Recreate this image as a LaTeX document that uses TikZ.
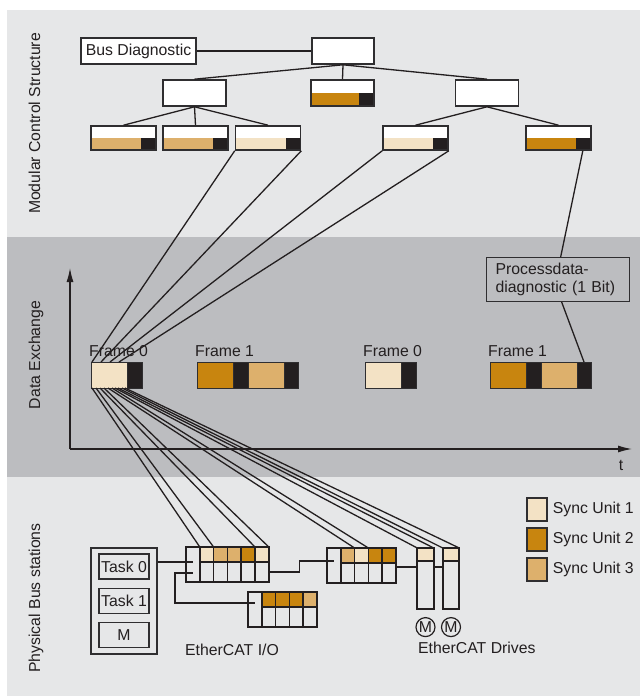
\documentclass[tikz,border=0pt]{standalone}
\usepackage{fontspec}
\setmainfont{Liberation Sans}
\usetikzlibrary{arrows.meta,positioning}
\definecolor{panel}{HTML}{E6E7E8}
\definecolor{midband}{HTML}{BCBDC0}
\definecolor{ink}{HTML}{231F20}
\definecolor{edge}{HTML}{2F2E30}
\definecolor{suone}{HTML}{F3E2C5}
\definecolor{sutwo}{HTML}{C8850F}
\definecolor{suthree}{HTML}{DDB06C}

\begin{document}
\begin{tikzpicture}[x=1pt, y=-1pt,
    font=\fontsize{15.8}{18}\selectfont, text=ink,
    wire/.style={ink, line width=1.3pt},
    axis/.style={ink, line width=1.3pt, -{Latex[length=14pt,width=7pt]}},
    unit/.style={draw=edge, line width=1.6pt, fill=white, inner sep=0pt},
    mod/.style={unit, minimum width=63pt, minimum height=26pt},
    ctrl/.style={unit, minimum width=65pt, minimum height=24pt,
      path picture={
        \fill[#1] (path picture bounding box.west) rectangle ([xshift=-15pt]path picture bounding box.south east);
        \fill[ink] ([xshift=-15pt]path picture bounding box.south east) rectangle (path picture bounding box.east);}},
    fcell/.style={draw=edge, line width=0.8pt, fill=#1, minimum height=26pt,
                  minimum width=36pt, inner sep=0pt, outer sep=0pt},
    fend/.style={fcell=ink, minimum width=15pt},
    flabel/.style={anchor=base west, inner sep=0pt},
    sidelabel/.style={rotate=90, anchor=base, inner sep=0pt},
    tab/.style={draw=ink, line width=1.7pt, minimum width=13.8pt, minimum height=35pt,
                inner sep=0pt, outer sep=0pt},
    ucell/.style={tab, fill=#1, minimum height=15pt},
    lcell/.style={tab, minimum height=20pt},
    task/.style={draw=edge, line width=1.5pt, minimum width=50pt, minimum height=25pt, inner sep=0pt},
    motor/.style={circle, draw=ink, line width=1.2pt, minimum size=19pt, inner sep=0pt},
    swatch/.style={draw=edge, line width=1.5pt, fill=#1, minimum width=20pt,
                   minimum height=23pt, inner sep=0pt}]

  \useasboundingbox (0,0) rectangle (640,696);
  \fill[panel]   (7,10)  rectangle (640,237);
  \fill[midband] (7,237) rectangle (640,477);
  \fill[panel]   (7,477) rectangle (640,696);

  \node[sidelabel] (sidetop) at (40,123.5) {Modular Control Structure};
  \node[sidelabel] (sidemid) at (40,355)   {Data Exchange};
  \node[sidelabel] (sidebot) at (40,598)   {Physical Bus stations};

  % control tree
  \node[unit, minimum width=115pt, minimum height=26pt] (bd) at (138.5,51) {Bus Diagnostic};
  \node[mod, minimum width=62pt] (root) at (343,51) {};
  \node[mod] (l2a) at (194.5,93) {};
  \node[ctrl=sutwo, minimum width=63pt, minimum height=26pt] (l2b) at (342.5,93) {};
  \node[mod] (l2c) at (487,93) {};
  \node[ctrl=suthree] (l3a) at (123.5,138) {};
  \node[ctrl=suthree] (l3b) at (195.5,138) {};
  \node[ctrl=suone]   (l3c) at (268,138)   {};
  \node[ctrl=suone]   (l3d) at (415.5,138) {};
  \node[ctrl=sutwo]   (l3e) at (558.5,138) {};

  \draw[wire] (bd) -- (root);
  \foreach \n in {l2a,l2b,l2c} \draw[wire] (root.south) -- (\n.north);
  \foreach \n in {l3a,l3b,l3c} \draw[wire] (l2a.south) -- (\n.north);
  \foreach \n in {l3d,l3e} \draw[wire] (l2c.south) -- (\n.north);

  % frames on the time axis
  \coordinate (orig) at (70,449);
  \draw[axis] (orig) -- (70,268);
  \draw[axis] (orig) -- (632,449);
  \node (tlab) at (621,465) {t};

  \node[fcell=suone] (f0) at (109,375) {};
  \node[fend, right=0pt of f0] (f0k) {};
  \node[fcell=sutwo] (f1a) at (215,375) {};
  \node[fend, right=0pt of f1a] (f1b) {};
  \node[fcell=suthree, right=0pt of f1b] (f1c) {};
  \node[fend, minimum width=14pt, right=0pt of f1c] (f1d) {};
  \node[fcell=suone] (f2) at (383,375) {};
  \node[fend, right=0pt of f2] (f2k) {};
  \node[fcell=sutwo] (f3a) at (508,375) {};
  \node[fend, right=0pt of f3a] (f3b) {};
  \node[fcell=suthree, right=0pt of f3b] (f3c) {};
  \node[fend, minimum width=14pt, right=0pt of f3c] (f3d) {};

  \foreach \f/\t in {f0/Frame 0, f1a/Frame 1, f2/Frame 0, f3a/Frame 1}
    \node[flabel] (lab\f) at ([xshift=-2pt,yshift=6pt]\f.north west) {\t};

  \node[draw=edge, line width=1.3pt, anchor=north west, align=left, text width=125pt,
        inner xsep=9pt, inner ysep=5.5pt] (pd) at (486,257) {Processdata-\\diagnostic (1 Bit)};
  \draw[wire] ([xshift=-9pt]l3e.south east) -- ([xshift=2.5pt]pd.north);
  \draw[wire] ([xshift=3.5pt]pd.south) -- (f3d.north);

  \foreach \s/\d in {l3c.south west/1, l3c.south east/10, l3d.south west/19, l3d.south east/28}
    \draw[wire] (\s) -- ([xshift=\d pt]f0.north west);

  % bus stations
  \node[draw=edge, line width=1.5pt, minimum width=66pt, minimum height=106pt] (pc) at (124,601) {};
  \node[task] (t0) at (124,566.5) {Task 0};
  \node[task] (t1) at (124,601)   {Task 1};
  \node[task] (tm) at (124,635)   {M};

  \node[tab] (io1) at (192.9,564.5) {};
  \foreach \c [count=\i] in {suone,suthree,suthree,sutwo,suone} {
    \node[ucell=\c, anchor=north west] (io1-\i) at ([xshift={13.8*\i}]io1.north west) {};
    \node[lcell, below=0pt of io1-\i] (io1b-\i) {};
  }
  \node[tab] (io2) at (333.9,565.5) {};
  \foreach \c [count=\i] in {suthree,suone,sutwo,sutwo} {
    \node[ucell=\c, anchor=north west] (io2-\i) at ([xshift={13.8*\i}]io2.north west) {};
    \node[lcell, below=0pt of io2-\i] (io2b-\i) {};
  }
  \node[tab] (io3) at (254.9,609.5) {};
  \foreach \c [count=\i] in {sutwo,sutwo,sutwo,suthree} {
    \node[ucell=\c, anchor=north west] (io3-\i) at ([xshift={13.8*\i}]io3.north west) {};
    \node[lcell, below=0pt of io3-\i] (io3b-\i) {};
  }

  \node[ucell=suone, minimum width=16.5pt, minimum height=13pt] (d1) at (425.5,554.5) {};
  \node[lcell, minimum width=16.5pt, minimum height=48pt, below=0pt of d1] (d1b) {};
  \node[ucell=suone, minimum width=16.5pt, minimum height=13pt] (d2) at (451,554.5) {};
  \node[lcell, minimum width=16.5pt, minimum height=48pt, below=0pt of d2] (d2b) {};
  \node[motor, below=8pt of d1b] (m1) {M};
  \node[motor, below=8pt of d2b] (m2) {M};

  \coordinate (pa) at ([yshift=2.5pt]io1.center);
  \draw[wire] (pa -| pc.east) -- (pa);
  \draw[wire] ([yshift=-8.5pt]io1.center) -- ++(-18,0) |- ([yshift=6.5pt]io3.center);
  \draw[wire] (io1b-5.east) -- ++(31,0) |- ([yshift=4.5pt]io2.center);
  \coordinate (dl) at ([yshift=6pt]io2b-4.east);
  \draw[wire] (dl) -- (dl -| d1b.west);
  \draw[wire] (dl -| d1b.east) -- (dl -| d2b.west);

  \foreach \d/\t in {1/io1-1.north west, 5/io1-1.north east, 9/io1-5.north west, 13/io1-5.north east,
                     17/io2-2.north west, 21/io2-2.north east, 24/d1.north west, 27/d1.north east,
                     31/d2.north west, 34/d2.north east}
    \draw[wire] ([xshift=\d pt]f0.south west) -- (\t);

  \node[anchor=base west, inner sep=0pt] (iolab)  at (185,655) {EtherCAT I/O};
  \node[anchor=base west, inner sep=0pt] (drvlab) at (418,653) {EtherCAT Drives};

  \foreach \c/\t [count=\i] in {suone/Sync Unit 1, sutwo/Sync Unit 2, suthree/Sync Unit 3} {
    \node[swatch=\c] (sw\i) at (537,{479.5+30*\i}) {};
    \node[anchor=west, inner sep=0pt] (swl\i) at ([xshift=5pt]sw\i.east) {\t};
  }
\end{tikzpicture}
\end{document}
